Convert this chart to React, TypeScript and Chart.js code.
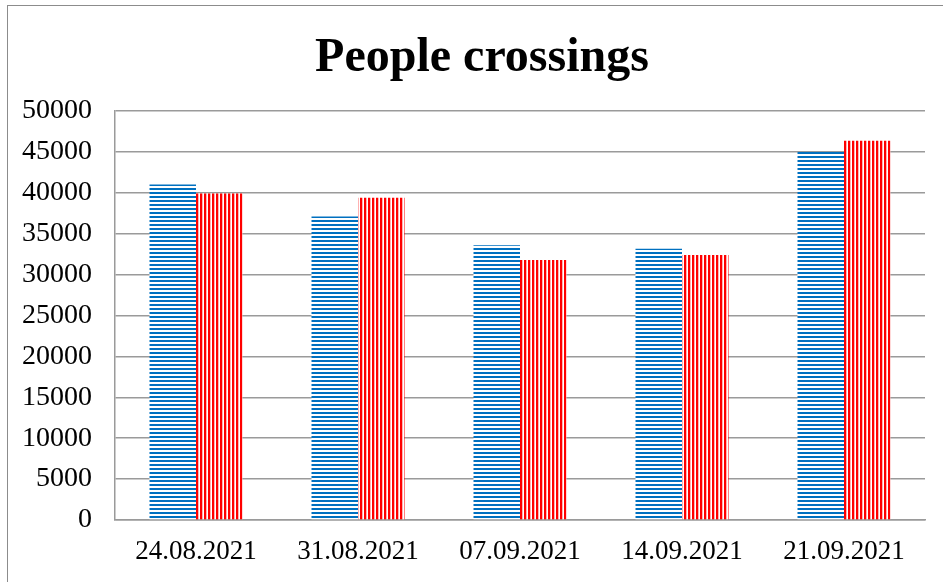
import { useEffect, useRef } from "react";
import { Chart, registerables } from "chart.js";

Chart.register(...registerables);

const titleText = "People crossings";
const categories = ["24.08.2021", "31.08.2021", "07.09.2021", "14.09.2021", "21.09.2021"];
const seriesBlue = [41000, 37100, 33600, 33150, 45000];
const seriesRed = [39900, 39400, 31800, 32400, 46350];
const yMin = 0;
const yMax = 50000;
const yStep = 5000;

function hPattern(color: string): CanvasPattern | string {
  const c = document.createElement("canvas");
  c.width = 4;
  c.height = 4;
  const g = c.getContext("2d");
  if (!g) return color;
  g.fillStyle = "#ffffff";
  g.fillRect(0, 0, 4, 4);
  g.fillStyle = color;
  g.fillRect(0, 0, 4, 2);
  return g.createPattern(c, "repeat") || color;
}

function vPattern(color: string): CanvasPattern | string {
  const c = document.createElement("canvas");
  c.width = 4;
  c.height = 4;
  const g = c.getContext("2d");
  if (!g) return color;
  g.fillStyle = "#ffffff";
  g.fillRect(0, 0, 4, 4);
  g.fillStyle = color;
  g.fillRect(0, 0, 2, 4);
  g.globalAlpha = 0.3;
  g.fillRect(2, 0, 1, 4);
  return g.createPattern(c, "repeat") || color;
}

const FONT = "'Liberation Serif', 'Times New Roman', serif";

export default function App() {
  const ref = useRef<HTMLCanvasElement | null>(null);

  useEffect(() => {
    if (!ref.current) return;
    Chart.defaults.font.family = FONT;
    Chart.defaults.color = "#000000";
    const chart = new Chart(ref.current, {
      type: "bar",
      data: {
        labels: categories,
        datasets: [
          {
            label: "Series 1",
            data: seriesBlue,
            backgroundColor: hPattern("#0070C0") as any,
            borderWidth: 0,
            barPercentage: 1,
            categoryPercentage: 0.574,
          },
          {
            label: "Series 2",
            data: seriesRed,
            backgroundColor: vPattern("#FF0000") as any,
            borderWidth: 0,
            barPercentage: 1,
            categoryPercentage: 0.574,
          },
        ],
      },
      options: {
        animation: false,
        responsive: false,
        devicePixelRatio: 1,
        layout: { padding: { left: 0, right: 18, top: 111, bottom: 0 } },
        plugins: {
          legend: { display: false },
          tooltip: { enabled: false },
          title: { display: false },
        },
        scales: {
          x: {
            grid: { display: false, drawTicks: false },
            border: { display: true, color: "#9A9A9A", width: 1.5 },
            ticks: {
              font: { family: FONT, size: 27 },
              color: "#000000",
              padding: 16,
              maxRotation: 0,
              autoSkip: false,
            },
            afterFit: (scale: any) => {
              scale.height = 62;
            },
          },
          y: {
            min: yMin,
            max: yMax,
            grid: { color: "#9A9A9A", lineWidth: 1.5, drawTicks: false },
            border: { display: true, color: "#9A9A9A", width: 1.5 },
            ticks: {
              stepSize: yStep,
              font: { family: FONT, size: 28 },
              color: "#000000",
              padding: 23,
              callback: (v: any) => String(v),
            },
            afterFit: (scale: any) => {
              scale.width = 115;
            },
          },
        },
      },
    });
    return () => chart.destroy();
  }, []);

  return (
    <div
      style={{
        position: "fixed",
        left: 0,
        top: 0,
        width: 943,
        height: 582,
        overflow: "hidden",
        background: "#ffffff",
      }}
    >
      <canvas ref={ref} width={943} height={582} style={{ position: "absolute", left: 0, top: 0 }} />
      <div
        style={{
          position: "absolute",
          left: 282,
          width: 400,
          top: 26,
          height: 58,
          lineHeight: "58px",
          textAlign: "center",
          fontFamily: FONT,
          fontWeight: "bold",
          fontSize: 48,
          color: "#000000",
          whiteSpace: "nowrap",
        }}
      >
        {titleText}
      </div>
      <div
        style={{
          position: "absolute",
          left: 7,
          top: 5,
          width: 1000,
          height: 1000,
          borderTop: "1.5px solid #8C8C8C",
          borderLeft: "1.5px solid #8C8C8C",
          pointerEvents: "none",
        }}
      />
    </div>
  );
}
